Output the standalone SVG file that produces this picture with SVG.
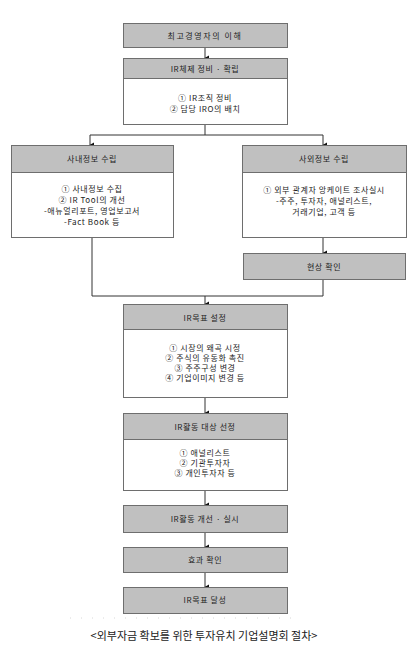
<svg xmlns="http://www.w3.org/2000/svg" width="420" height="661" viewBox="0 0 420 661">
<style>
.hd{fill:#c0c0c0;stroke:#6e6e6e;stroke-width:1}
.bd{fill:#ffffff;stroke:#6e6e6e;stroke-width:1}
.t{font-family:"Noto Sans CJK KR","Noto Sans",sans-serif;font-size:8px;fill:#222;text-anchor:middle;letter-spacing:0.6px}
.c{fill:none;stroke:#333;stroke-width:1}
.cap{font-family:"Noto Sans CJK KR","Noto Sans",sans-serif;font-size:11px;fill:#1a1a1a;text-anchor:middle}
</style>
<defs>
<marker id="ah" markerWidth="6" markerHeight="6" refX="3" refY="5" orient="auto-start-reverse" markerUnits="userSpaceOnUse" viewBox="0 0 6 6">
<path d="M0.5,1 L5.5,1 L3,5.5 Z" fill="#111"/>
</marker>
</defs>
<rect width="420" height="661" fill="#ffffff"/>
<g id="connectors">
<path class="c" d="M205,47 V58" marker-end="url(#ah)"/>
<path class="c" d="M205,124 V135"/>
<path class="c" d="M90,135 H323"/>
<path class="c" d="M90,135 V145" marker-end="url(#ah)"/>
<path class="c" d="M323,135 V145" marker-end="url(#ah)"/>
<path class="c" d="M323,237 V253" marker-end="url(#ah)"/>
<path class="c" d="M92,237 V296 H323 V279"/>
<path class="c" d="M205,296 V304" marker-end="url(#ah)"/>
<path class="c" d="M205,397 V413" marker-end="url(#ah)"/>
<path class="c" d="M205,490 V505" marker-end="url(#ah)"/>
<path class="c" d="M205,532 V547" marker-end="url(#ah)"/>
<path class="c" d="M205,572 V587" marker-end="url(#ah)"/>
</g>
<g id="n1">
<rect class="hd" x="123.5" y="23.5" width="164" height="24"/>
<text class="t" x="205" y="38.5" style="letter-spacing:1.6px">최고경영자의 이해</text>
</g>
<g id="n2">
<rect class="bd" x="123.5" y="58.5" width="164" height="66"/>
<rect class="hd" x="123.5" y="58.5" width="164" height="20"/>
<text class="t" x="205" y="71.5">IR체제 정비 · 확립</text>
<text class="t" x="205" y="101">① IR조직 정비</text>
<text class="t" x="205" y="112">② 담당 IRO의 배치</text>
</g>
<g id="n3">
<rect class="bd" x="11.5" y="145.5" width="162" height="92"/>
<rect class="hd" x="11.5" y="145.5" width="162" height="27"/>
<text class="t" x="92" y="162">사내정보 수립</text>
<text class="t" x="92" y="192">① 사내정보 수집</text>
<text class="t" x="92" y="203">② IR Tool의 개선</text>
<text class="t" x="92" y="214">-애뉴얼리포트, 영업보고서</text>
<text class="t" x="92" y="225">-Fact Book  등</text>
</g>
<g id="n4">
<rect class="bd" x="242.5" y="145.5" width="164" height="92"/>
<rect class="hd" x="242.5" y="145.5" width="164" height="27"/>
<text class="t" x="324" y="162">사외정보 수립</text>
<text class="t" x="324" y="193">① 외부 관계자 앙케이트 조사실시</text>
<text class="t" x="324" y="204">-주주, 투자자, 애널리스트,</text>
<text class="t" x="324" y="215">거래기업, 고객 등</text>
</g>
<g id="n5">
<rect class="hd" x="243.5" y="253.5" width="162" height="26"/>
<text class="t" x="324" y="269.5">현상 확인</text>
</g>
<g id="n6">
<rect class="bd" x="123.5" y="304.5" width="164" height="93"/>
<rect class="hd" x="123.5" y="304.5" width="164" height="25"/>
<text class="t" x="205" y="320.5">IR목표 설정</text>
<text class="t" x="205" y="351">① 시장의 왜곡 시정</text>
<text class="t" x="205" y="361">② 주식의 유동화 촉진</text>
<text class="t" x="205" y="371">③ 주주구성 변경</text>
<text class="t" x="205" y="381">④ 기업이미지 변경 등</text>
</g>
<g id="n7">
<rect class="bd" x="123.5" y="413.5" width="164" height="77"/>
<rect class="hd" x="123.5" y="413.5" width="164" height="26"/>
<text class="t" x="205" y="430">IR활동 대상 선정</text>
<text class="t" x="205" y="456">① 애널리스트</text>
<text class="t" x="205" y="466">② 기관투자자</text>
<text class="t" x="205" y="476">③ 개인투자자 등</text>
</g>
<g id="n8">
<rect class="hd" x="123.5" y="505.5" width="164" height="27"/>
<text class="t" x="205" y="521.5">IR활동 개선 · 실시</text>
</g>
<g id="n9">
<rect class="hd" x="123.5" y="547.5" width="164" height="25"/>
<text class="t" x="205" y="562.5">효과 확인</text>
</g>
<g id="n10">
<rect class="hd" x="123.5" y="587.5" width="164" height="26"/>
<text class="t" x="205" y="603">IR목표 달성</text>
</g>
<line x1="70" y1="618" x2="293" y2="618" stroke="#d8d8d8" stroke-width="1" stroke-dasharray="1 10"/>
<text class="cap" x="204" y="640">&lt;외부자금 확보를 위한 투자유치 기업설명회 절차&gt;</text>
</svg>
